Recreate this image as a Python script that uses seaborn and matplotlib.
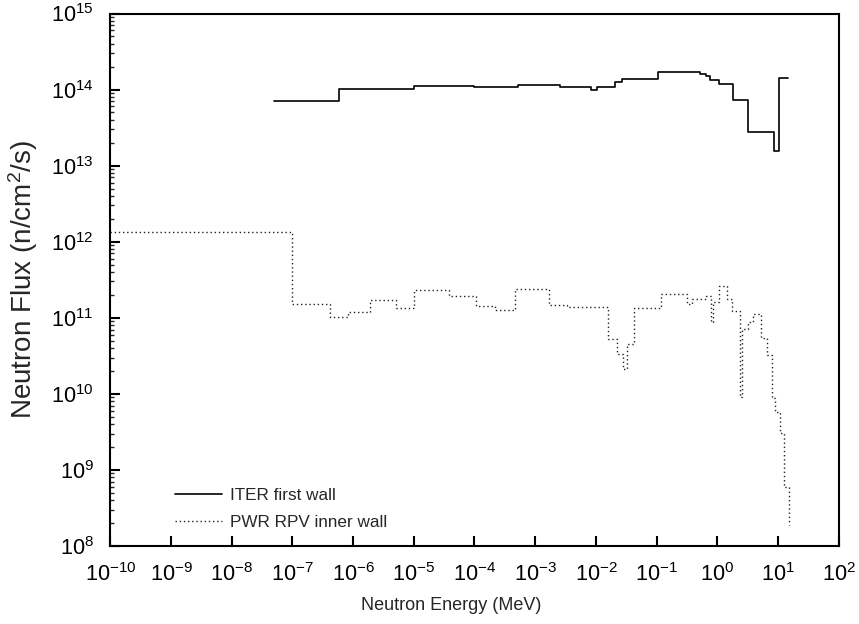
import matplotlib
matplotlib.use("Agg")
import matplotlib.pyplot as plt
import seaborn as sns
import numpy as np
import pandas as pd
from matplotlib.ticker import LogLocator, NullFormatter

# ITER first wall: bin edges (MeV) and flux per bin (n/cm2/s); last value repeats the final bin
iter_energy = [5.0e-8, 3.2e-7, 5.9e-7, 1.0e-5, 1.0e-4, 5.2e-4, 2.6e-3, 8.3e-3, 1.04e-2,
               2.07e-2, 2.7e-2, 0.105, 0.52, 0.65, 0.76, 1.07, 1.82, 3.2, 8.6, 10.4, 14.6]
iter_flux = [7.14e13, 7.01e13, 1.01e14, 1.12e14, 1.07e14, 1.14e14, 1.08e14, 9.96e13, 1.08e14,
             1.26e14, 1.39e14, 1.70e14, 1.62e14, 1.51e14, 1.35e14, 1.17e14, 7.23e13, 2.77e13,
             1.56e13, 1.41e14, 1.41e14]

# PWR RPV inner wall
pwr_energy = [1.0e-10, 1.0e-7, 4.2e-7, 8.2e-7, 1.9e-6, 5.1e-6, 1.0e-5, 3.8e-5, 1.06e-4, 2.2e-4,
              4.6e-4, 1.7e-3, 3.3e-3, 1.56e-2, 2.25e-2, 2.76e-2, 3.29e-2, 4.25e-2, 0.117, 0.313,
              0.378, 0.652, 0.787, 0.86, 1.07, 1.43, 1.77, 2.37, 2.6, 3.24, 3.83, 5.25, 6.5,
              7.87, 8.9, 10.8, 12.7, 15.4]
pwr_flux = [1.35e12, 1.50e11, 1.01e11, 1.20e11, 1.71e11, 1.34e11, 2.34e11, 1.93e11, 1.44e11,
            1.25e11, 2.37e11, 1.46e11, 1.39e11, 5.26e10, 3.34e10, 2.10e10, 4.52e10, 1.33e11,
            2.07e11, 1.52e11, 1.75e11, 1.93e11, 8.8e10, 1.63e11, 2.64e11, 1.75e11, 1.24e11,
            9.1e9, 7.1e10, 8.9e10, 1.11e11, 5.4e10, 3.24e10, 8.8e9, 5.8e9, 3.06e9, 5.9e8, 1.9e8]

series_labels = ["ITER first wall", "PWR RPV inner wall"]
x_ticks = [10.0 ** k for k in range(-10, 3)]
y_ticks = [10.0 ** k for k in range(8, 16)]

sns.set_theme(style="ticks")
plt.rcParams["font.family"] = ["Liberation Sans", "DejaVu Sans"]
plt.rcParams["mathtext.fontset"] = "custom"
plt.rcParams["mathtext.rm"] = "Liberation Sans"
plt.rcParams["mathtext.it"] = "Liberation Sans:italic"
plt.rcParams["mathtext.default"] = "regular"
plt.rcParams["axes.unicode_minus"] = False

fig = plt.figure(figsize=(8.59, 6.24), dpi=100)
ax = fig.add_axes([110.3 / 859, 1 - 546 / 624, (838.7 - 110.3) / 859, (546 - 13.5) / 624])

df_iter = pd.DataFrame({"E": iter_energy, "flux": iter_flux})
df_pwr = pd.DataFrame({"E": pwr_energy, "flux": pwr_flux})

sns.lineplot(data=df_iter, x="E", y="flux", ax=ax, estimator=None, sort=False,
             drawstyle="steps-post", color="black", linewidth=1.2, label=series_labels[0])
sns.lineplot(data=df_pwr, x="E", y="flux", ax=ax, estimator=None, sort=False,
             drawstyle="steps-post", color="#222222", linewidth=1.0,
             linestyle=(0, (1, 2)), label=series_labels[1])

ax.set_xscale("log")
ax.set_yscale("log")
ax.set_xlim(1e-10, 1e2)
ax.set_ylim(1e8, 1e15)
ax.set_xticks(x_ticks)
ax.set_yticks(y_ticks)
ax.xaxis.set_minor_locator(plt.NullLocator())
ax.yaxis.set_minor_locator(LogLocator(base=10, subs=np.arange(2, 10), numticks=20))
ax.yaxis.set_minor_formatter(NullFormatter())

ax.set_xlabel("Neutron Energy (MeV)", fontsize=13)
ax.xaxis.set_label_coords(0.468, -0.096)
ax.set_ylabel("Neutron Flux (n/cm$^2$/s)", fontsize=20, labelpad=8)

for s in ax.spines.values():
    s.set_visible(True)
    s.set_linewidth(1.5)
    s.set_color("black")
ax.tick_params(axis="both", which="major", direction="in", length=7, width=1.5,
               labelsize=15.6, colors="black", top=False, right=False)
ax.tick_params(axis="x", which="major", pad=12)
ax.tick_params(axis="y", which="major", pad=12)
ax.tick_params(axis="y", which="minor", direction="in", length=3, width=1.0, right=False)

leg = ax.legend(loc="lower left", bbox_to_anchor=(0.0888, 0.03), frameon=False,
                prop={"size": 12.3}, handlelength=2.75, handletextpad=0.47,
                labelspacing=0.69, borderaxespad=0, borderpad=0)

fig.savefig("out.png", dpi=100)
